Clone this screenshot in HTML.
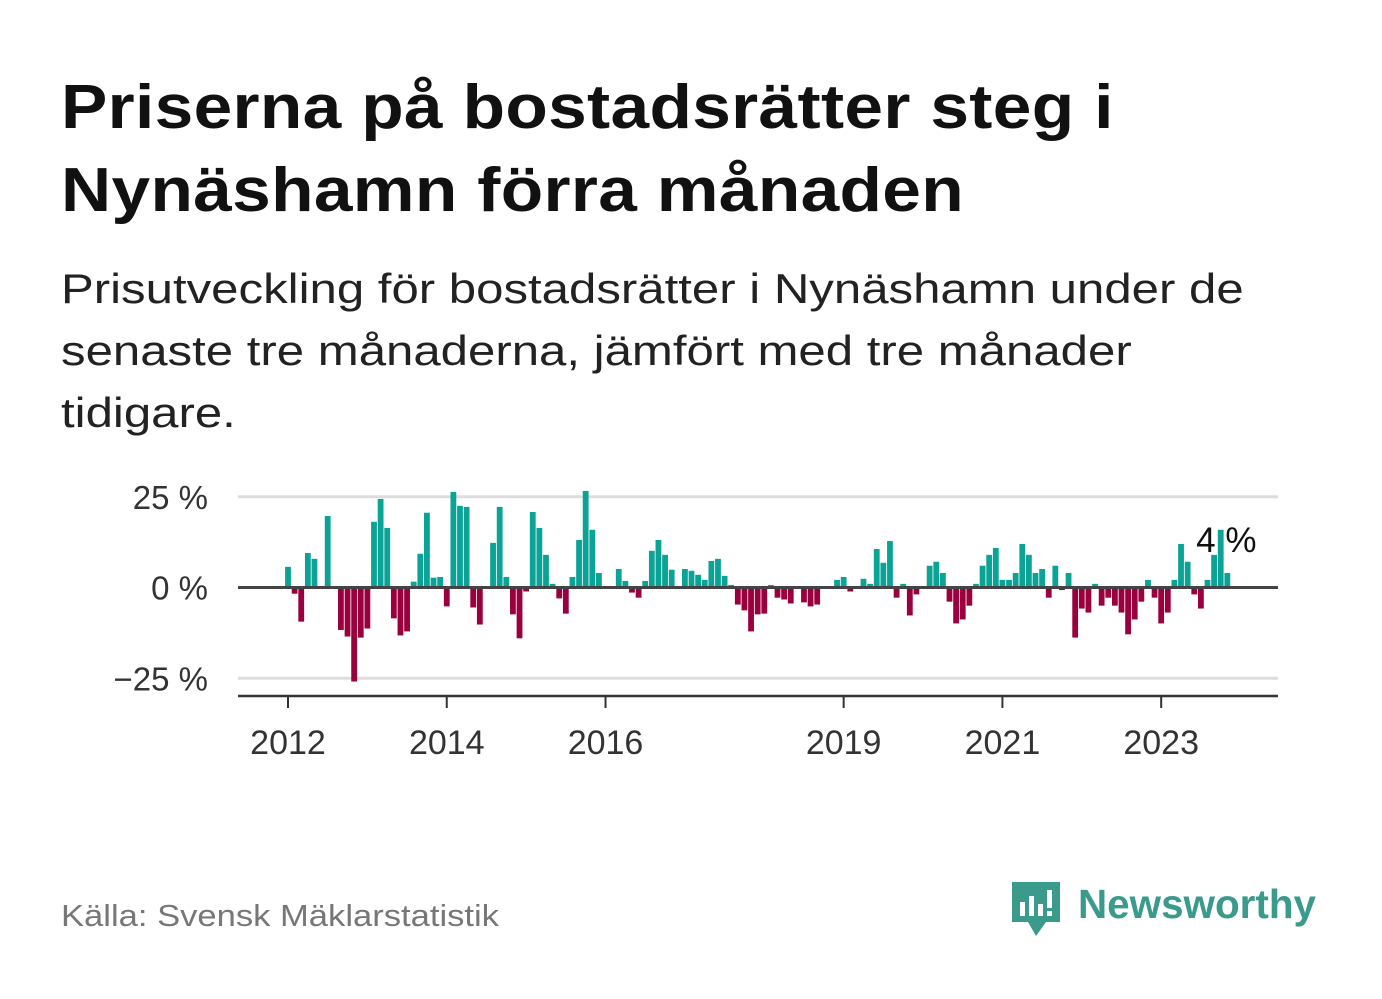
<!DOCTYPE html>
<html><head><meta charset="utf-8"><style>
body{margin:0;width:1382px;height:999px;background:#fff;font-family:"Liberation Sans",sans-serif;overflow:hidden;position:relative}
#title{position:absolute;left:61px;top:66px;font-size:62px;font-weight:bold;line-height:83px;color:#111;margin:0;letter-spacing:0.3px;transform:scaleX(1.12);transform-origin:0 0;white-space:nowrap}
#sub{position:absolute;left:61px;top:258px;font-size:42px;line-height:62px;color:#222;margin:0;transform:scaleX(1.17);transform-origin:0 0;white-space:nowrap}
#src{position:absolute;left:61px;top:898px;font-size:31px;color:#777;transform:scaleX(1.115);transform-origin:0 0;white-space:nowrap}
#logo{position:absolute;left:1010px;top:878px}
</style></head><body>
<h1 id="title">Priserna på bostadsrätter steg i<br>Nynäshamn förra månaden</h1>
<p id="sub">Prisutveckling för bostadsrätter i Nynäshamn under de<br>senaste tre månaderna, jämfört med tre månader<br>tidigare.</p>
<svg id="chart" width="1382" height="999" style="position:absolute;left:0;top:0"></svg>
<div id="src">Källa: Svensk Mäklarstatistik</div>
<svg id="logo" width="320" height="65">
<path d="M2 4h48v40H36l-10 14-8-14H2z" fill="#3a9a8c"/>
<rect x="10" y="24" width="5" height="14" fill="#fff"/><rect x="19" y="18" width="5" height="20" fill="#fff"/><rect x="28" y="26" width="5" height="12" fill="#fff"/><rect x="37" y="12" width="5" height="18" fill="#fff"/><rect x="37" y="33" width="5" height="5" fill="#fff"/>
<text x="68" y="40" font-size="41" font-weight="bold" fill="#3a9a8c" font-family="Liberation Sans, sans-serif" textLength="238" lengthAdjust="spacingAndGlyphs">Newsworthy</text>
</svg>
<script>
const values=[5.7,-1.7,-9.4,9.5,7.9,0,19.7,0,-11.7,-13.5,-25.9,-13.8,-11.3,18.1,24.4,16.4,-8.5,-13.2,-12.1,1.6,9.3,20.6,2.7,2.9,-5.2,26.3,22.5,22.2,-5.5,-10.2,0,12.3,22.2,2.9,-7.4,-14.0,-1.1,20.8,16.4,9.0,1.0,-3.0,-7.2,2.9,13.1,26.6,15.9,4.0,
0,0,5.1,1.8,-1.4,-2.8,1.8,10.1,13.1,9.0,4.9,0,5.1,4.6,3.5,2.1,7.3,7.9,3.2,0.7,-4.7,-6.3,-12.1,-7.4,-7.2,0.7,-2.8,-3.3,-4.4,0,-4.1,-5.2,-4.7,0,0,2.1,2.9,-1.1,0,2.4,1.0,10.6,6.8,12.8,-2.8,1.0,-7.7,-1.9,0,6.0,
7.1,4.0,-3.9,-9.9,-8.8,-5.0,1.0,6.0,9.0,10.9,2.1,2.1,4.0,12.0,9.0,4.0,5.1,-2.8,6.0,-0.7,4.0,-13.8,-5.8,-6.9,1.0,-5.0,-2.8,-5.0,-6.9,-12.9,-8.8,-3.9,2.1,-2.8,-9.9,-6.9,2.1,12.0,7.1,-1.9,-5.8,2.1,9.0,15.9,4.0];
const startYear=2012;
const yTicks=[25,0,-25];
const yTickLabels=["25 %","0 %","\u221225 %"];
const xTickYears=[2012,2014,2016,2019,2021,2023];
const lastLabel="4 %";
const svg=document.getElementById('chart');const NS='http://www.w3.org/2000/svg';
const X0=288,MW=6.615,Y0=587.5,PPU=3.63,L=238,R=1278;
const xs=i=>X0+i*MW; const ys=v=>Y0-v*PPU; const xy=y=>X0+(y-startYear)*12*MW;
function mk(t,a){const e=document.createElementNS(NS,t);for(const k in a)e.setAttribute(k,a[k]);svg.appendChild(e);return e;}
yTicks.forEach((t,i)=>{
 if(t!==0){const g=mk('line',{x1:L,x2:R,y1:ys(t),y2:ys(t),stroke:'#ddd','stroke-width':3});
 
 }
 const tx=mk('text',{x:208,y:ys(t)+12,'text-anchor':'end','font-size':33,fill:'#333','font-family':'Liberation Sans, sans-serif'});tx.textContent=yTickLabels[i];
 
 
});
values.forEach((v,i)=>{
 const r=mk('rect',{x:xs(i)-2.9,width:5.8,y:Math.min(ys(v),Y0),height:Math.abs(ys(v)-Y0),fill:v>=0?'#0aa396':'#99003d'});
 
 
});
const z=mk('line',{x1:L,x2:R,y1:Y0,y2:Y0,stroke:'#444','stroke-width':3});


const ax=mk('line',{x1:L,x2:R,y1:696,y2:696,stroke:'#333','stroke-width':2.5});


xTickYears.forEach(y=>{
 const t=mk('line',{x1:xy(y),x2:xy(y),y1:696,y2:708,stroke:'#333','stroke-width':2});
 
 
 const l=mk('text',{x:xy(y),y:754,'text-anchor':'middle','font-size':34,fill:'#333','font-family':'Liberation Sans, sans-serif'});l.textContent=y;
 
 
});
const n=values.length-1;
const lb=mk('text',{x:xs(n)-1,y:552,'text-anchor':'middle','font-size':35,fill:'#111','font-family':'Liberation Sans, sans-serif'});lb.textContent=lastLabel;


</script>
</body></html>
